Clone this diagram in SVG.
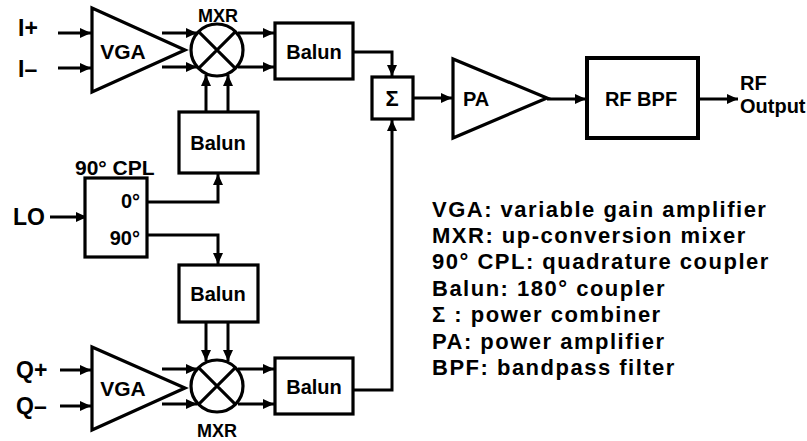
<svg xmlns="http://www.w3.org/2000/svg" width="807" height="441" viewBox="0 0 807 441">
<style>
  .box{fill:#fff;stroke:#000;stroke-width:3.2}
  .thick{stroke-width:4}
  .wire{fill:none;stroke:#000;stroke-width:3}
  .arr{marker-end:url(#ah)}
  text{font-family:"Liberation Sans",Arial,sans-serif;font-weight:bold;fill:#000}
  .lbl{font-size:20px}
  .big{font-size:23px}
  .mx{font-size:18px}
  .leg{font-size:22px;letter-spacing:1.5px}
  .c{text-anchor:middle}
</style>
<defs>
  <marker id="ah" markerUnits="userSpaceOnUse" markerWidth="11" markerHeight="10" refX="11" refY="5" orient="auto">
    <path d="M0,0 L11,5 L0,10 z" fill="#000"/>
  </marker>
</defs>

<g id="connectors">
  <line class="wire arr" x1="58" y1="33" x2="91" y2="33"/>
  <line class="wire arr" x1="58" y1="68" x2="91" y2="68"/>
  <line class="wire arr" x1="162" y1="33" x2="197" y2="33"/>
  <line class="wire arr" x1="162" y1="67" x2="197" y2="67"/>
  <line class="wire arr" x1="238" y1="33" x2="274" y2="33"/>
  <line class="wire arr" x1="238" y1="67" x2="274" y2="67"/>
  <line class="wire arr" x1="206" y1="112" x2="206" y2="75"/>
  <line class="wire arr" x1="228" y1="112" x2="228" y2="75"/>
  <line class="wire arr" x1="50" y1="217" x2="87" y2="217"/>
  <polyline class="wire arr" points="147,202 218,202 218,174"/>
  <polyline class="wire arr" points="147,235 218,235 218,264"/>
  <line class="wire arr" x1="206" y1="322" x2="206" y2="361"/>
  <line class="wire arr" x1="228" y1="322" x2="228" y2="361"/>
  <line class="wire arr" x1="60" y1="370" x2="91" y2="370"/>
  <line class="wire arr" x1="60" y1="406" x2="91" y2="406"/>
  <line class="wire arr" x1="162" y1="369" x2="197" y2="369"/>
  <line class="wire arr" x1="162" y1="404" x2="197" y2="404"/>
  <line class="wire arr" x1="238" y1="369" x2="274" y2="369"/>
  <line class="wire arr" x1="238" y1="404" x2="274" y2="404"/>
  <polyline class="wire arr" points="353,52 392,52 392,76"/>
  <polyline class="wire arr" points="353,390 392,390 392,120"/>
  <line class="wire arr" x1="413" y1="98" x2="452" y2="98"/>
  <line class="wire arr" x1="547" y1="99" x2="586" y2="99"/>
  <line class="wire arr" x1="698" y1="99" x2="738" y2="99"/>
</g>

<g id="in-I">
  <text class="big" x="18" y="36">I+</text>
  <text class="big" x="18" y="77">I–</text>
</g>
<g id="vga-top">
  <polygon class="box" points="92,8 92,92 185,50"/>
  <text class="lbl c" x="123" y="59" style="font-size:21px">VGA</text>
</g>
<g id="mxr-top">
  <circle class="box" cx="217" cy="50" r="26"/>
  <path class="wire" d="M198.6,31.6 L235.4,68.4 M235.4,31.6 L198.6,68.4"/>
  <text class="mx c" x="218" y="22">MXR</text>
</g>
<g id="balun-out-top">
  <rect class="box" x="275" y="23" width="78" height="56"/>
  <text class="lbl c" x="314" y="59">Balun</text>
</g>
<g id="balun-lo-top">
  <rect class="box" x="179" y="112" width="79" height="61"/>
  <text class="lbl c" x="218" y="150">Balun</text>
</g>
<g id="cpl">
  <text class="lbl" x="75" y="175" style="font-size:21px">90° CPL</text>
  <rect class="box" x="85" y="178" width="62" height="79"/>
  <text class="lbl" x="140" y="208" text-anchor="end">0°</text>
  <text class="lbl" x="140" y="245" text-anchor="end">90°</text>
</g>
<g id="lo">
  <text class="big" x="13" y="225">LO</text>
</g>
<g id="balun-lo-bot">
  <rect class="box" x="179" y="265" width="79" height="57"/>
  <text class="lbl c" x="218" y="301">Balun</text>
</g>
<g id="in-Q">
  <text class="big" x="16" y="378">Q+</text>
  <text class="big" x="16" y="414">Q–</text>
</g>
<g id="vga-bot">
  <polygon class="box" points="92,347 92,430 185,388"/>
  <text class="lbl c" x="123" y="396" style="font-size:21px">VGA</text>
</g>
<g id="mxr-bot">
  <circle class="box" cx="217" cy="386" r="26"/>
  <path class="wire" d="M198.6,367.6 L235.4,404.4 M235.4,367.6 L198.6,404.4"/>
  <text class="mx c" x="217" y="437">MXR</text>
</g>
<g id="balun-out-bot">
  <rect class="box" x="275" y="358" width="78" height="56"/>
  <text class="lbl c" x="314" y="394">Balun</text>
</g>
<g id="sigma">
  <rect class="box" x="372" y="77" width="41" height="42"/>
  <text class="lbl c" x="392" y="106" style="font-size:22px">Σ</text>
</g>
<g id="pa">
  <polygon class="box" points="453,59 453,138 547,98"/>
  <text class="lbl" x="463" y="106">PA</text>
</g>
<g id="bpf">
  <rect class="box thick" x="587" y="58" width="111" height="80"/>
  <text class="lbl c" x="641" y="106">RF BPF</text>
</g>
<g id="output">
  <text class="lbl" x="740" y="90">RF</text>
  <text class="lbl" x="740" y="113">Output</text>
</g>
<g id="legend">
  <text class="leg" x="432" y="217">VGA: variable gain amplifier</text>
  <text class="leg" x="432" y="243">MXR: up-conversion mixer</text>
  <text class="leg" x="432" y="269">90° CPL: quadrature coupler</text>
  <text class="leg" x="432" y="296">Balun: 180° coupler</text>
  <text class="leg" x="432" y="322">Σ : power combiner</text>
  <text class="leg" x="432" y="349">PA: power amplifier</text>
  <text class="leg" x="432" y="375">BPF: bandpass filter</text>
</g>
</svg>
